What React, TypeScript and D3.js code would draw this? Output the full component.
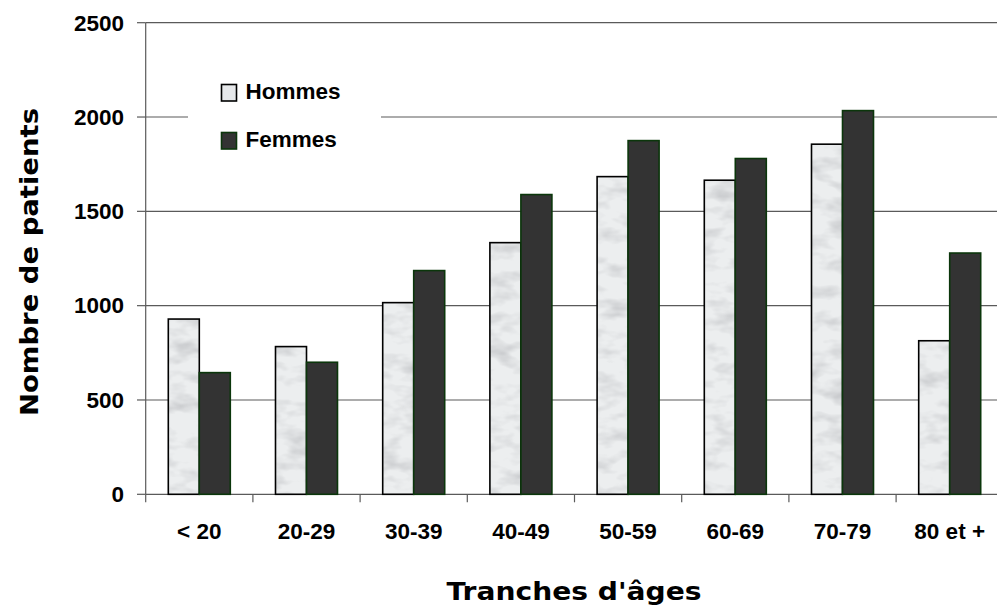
import React from "react";
import * as d3 from "d3";

const categories = ["< 20", "20-29", "30-39", "40-49", "50-59", "60-69", "70-79", "80 et +"];
const hommes = [929, 783, 1016, 1334, 1684, 1665, 1856, 814];
const femmes = [645, 700, 1186, 1589, 1875, 1780, 2034, 1279];
const yTicks = [0, 500, 1000, 1500, 2000, 2500];
const seriesNames = ["Hommes", "Femmes"];

const W = 997;
const H = 611;

export default function App() {
  const x0 = d3.scaleBand<string>().domain(categories).range([145.7, 1003.3]).paddingInner(0).paddingOuter(0);
  const bw = x0.bandwidth();
  const x1 = d3.scaleBand<string>().domain(seriesNames).range([(bw - 62) / 2, (bw + 62) / 2]).padding(0);
  const y = d3.scaleLinear().domain([0, 2500]).range([494.3, 22.7]);

  const labelFont = "'Liberation Sans', Arial, sans-serif";
  const titleFont = "'Comic Sans MS', 'DejaVu Sans', sans-serif";

  return (
    <svg width={W} height={H} style={{ position: "absolute", left: 0, top: 0, background: "#fff" }}>
      <defs>
        <filter id="marble" x="0" y="0" width="1" height="1" filterUnits="objectBoundingBox">
          <feTurbulence type="fractalNoise" baseFrequency="0.035 0.07" numOctaves="3" seed="7" />
          <feColorMatrix type="matrix" values="0 0 0 0 0.5  0 0 0 0 0.51  0 0 0 0 0.53  1.6 0 0 0 -0.72" />
        </filter>
      </defs>
      <rect x={0} y={0} width={W} height={H} fill="#fff" />
      {/* gridlines */}
      {yTicks.map((t) => (
        <line key={"g" + t} x1={145.7} x2={W} y1={y(t)} y2={y(t)} stroke="#5a5a5a" strokeWidth={1.2} />
      ))}
      {/* legend background */}
      <rect x={188} y={60} width={193} height={105} fill="#fff" />
      {/* y axis */}
      <line x1={145.7} x2={145.7} y1={y(2500)} y2={y(0)} stroke="#5a5a5a" strokeWidth={1.2} />
      {yTicks.map((t) => (
        <g key={"yt" + t}>
          <line x1={137} x2={145.7} y1={y(t)} y2={y(t)} stroke="#5a5a5a" strokeWidth={1.2} />
          <text x={124} y={y(t) + 7.8} textAnchor="end" fontFamily={labelFont} fontWeight="bold" fontSize={22.5} fill="#000">
            {t}
          </text>
        </g>
      ))}
      {/* x ticks */}
      {categories.map((c, i) => (
        <line key={"xt" + c} x1={(x0(c) as number)} x2={(x0(c) as number)} y1={y(0)} y2={y(0) + 8} stroke="#5a5a5a" strokeWidth={1.2} />
      ))}
      {/* bars */}
      {categories.map((c, i) => {
        const bx = x0(c) as number;
        const hx = bx + (x1("Hommes") as number);
        const fx = bx + (x1("Femmes") as number);
        const w = x1.bandwidth();
        return (
          <g key={"b" + c}>
            <rect x={hx} y={y(hommes[i])} width={w} height={y(0) - y(hommes[i])} fill="#eceeef" />
            <rect x={hx} y={y(hommes[i])} width={w} height={y(0) - y(hommes[i])} fill="#fff" filter="url(#marble)" />
            <rect x={hx} y={y(hommes[i])} width={w} height={y(0) - y(hommes[i])} fill="none" stroke="#000" strokeWidth={1.6} />
            <rect x={fx} y={y(femmes[i])} width={w} height={y(0) - y(femmes[i])} fill="#333333" stroke="#0b360b" strokeWidth={1.6} />
          </g>
        );
      })}
      {/* x labels */}
      {categories.map((c) => (
        <text key={"xl" + c} x={(x0(c) as number) + bw / 2} y={539.3} textAnchor="middle" fontFamily={labelFont} fontWeight="bold" fontSize={22.5} fill="#000">
          {c}
        </text>
      ))}
      {/* legend */}
      <rect x={221.5} y={84.5} width={15} height={16.5} fill="#e6e8ea" stroke="#000" strokeWidth={1.6} />
      <text x={245.5} y={99.3} fontFamily={labelFont} fontWeight="bold" fontSize={22.5} fill="#000">Hommes</text>
      <rect x={221.5} y={132.5} width={15} height={16.5} fill="#333333" stroke="#0b360b" strokeWidth={1.6} />
      <text x={245.5} y={147.3} fontFamily={labelFont} fontWeight="bold" fontSize={22.5} fill="#000">Femmes</text>
      {/* axis titles */}
      <text x={574} y={600} textAnchor="middle" fontFamily={titleFont} fontWeight="bold" fontSize={25} textLength={255} lengthAdjust="spacingAndGlyphs" fill="#000">
        Tranches d'âges
      </text>
      <text transform="translate(38,262) rotate(-90)" x={0} y={0} textAnchor="middle" fontFamily={titleFont} fontWeight="bold" fontSize={25} textLength={308} lengthAdjust="spacingAndGlyphs" fill="#000">
        Nombre de patients
      </text>
    </svg>
  );
}
